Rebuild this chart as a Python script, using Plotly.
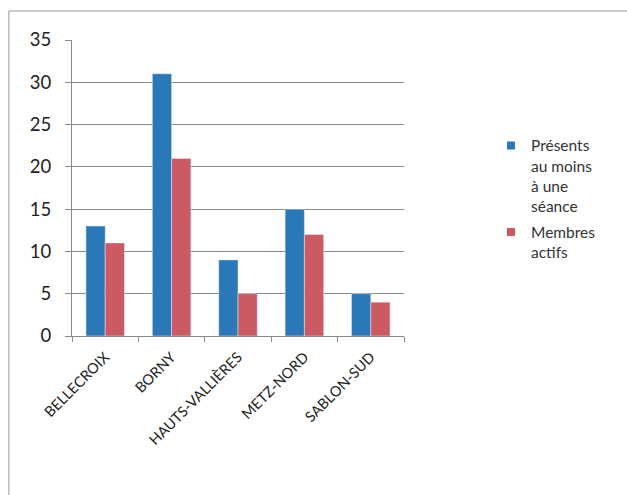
import plotly.graph_objects as go

categories = ["BELLECROIX", "BORNY", "HAUTS-VALLIÈRES", "METZ-NORD", "SABLON-SUD"]
presents = [13, 31, 9, 15, 5]
membres = [11, 21, 5, 12, 4]
series_names = ["Présents<br>au moins<br>à une<br>séance", "Membres<br>actifs"]
y_ticks = [0, 5, 10, 15, 20, 25, 30, 35]

blue = "#2A78B8"
red = "#CB5A63"
grid = "#8A8A8A"
font_family = "Lato, 'Open Sans', sans-serif"

fig = go.Figure()
fig.add_trace(go.Bar(x=categories, y=presents, name=series_names[0], marker_color=blue,
                     showlegend=False))
fig.add_trace(go.Bar(x=categories, y=membres, name=series_names[1], marker_color=red,
                     showlegend=False))
# legend entries with small square markers
for i, (name, col) in enumerate(zip(series_names, [blue, red])):
    fig.add_trace(go.Scatter(x=[None], y=[None], mode="markers", name=name,
                             legendgroup=f"g{i}",
                             marker=dict(symbol="square", size=8, color=col)))

fig.update_layout(
    width=627, height=495,
    margin=dict(l=72, r=223, t=40, b=159),
    paper_bgcolor="white", plot_bgcolor="white",
    barmode="group", bargap=0.42, bargroupgap=0,
    font=dict(family=font_family, color="#222"),
    showlegend=True,
    legend=dict(
        x=1.262, y=0.70, xanchor="left", yanchor="top",
        font=dict(size=15.5, color="#333", family=font_family),
        valign="top", tracegroupgap=3, itemwidth=30,
        bgcolor="rgba(0,0,0,0)",
    ),
    shapes=[dict(type="rect", xref="paper", yref="paper",
                 x0=-0.19, y0=-0.56, x1=1.7, y1=1.098,
                 line=dict(color="#9A9A9A", width=1))],
)
fig.update_xaxes(
    type="category", tickson="boundaries", ticks="outside", ticklen=5,
    tickcolor=grid, showline=True, linecolor=grid, linewidth=1,
    tickangle=-45, tickfont=dict(size=14.5, color="#222"), showgrid=False,
    ticklabelstandoff=6,
)
fig.update_yaxes(
    range=[0, 35], tickvals=y_ticks, ticks="outside", ticklen=6, tickcolor=grid,
    showline=True, linecolor=grid, linewidth=1,
    showgrid=True, gridcolor=grid, gridwidth=1,
    tickfont=dict(size=18.5, color="#222"), ticklabelstandoff=10, zeroline=False,
)
fig.write_html("out.html")
